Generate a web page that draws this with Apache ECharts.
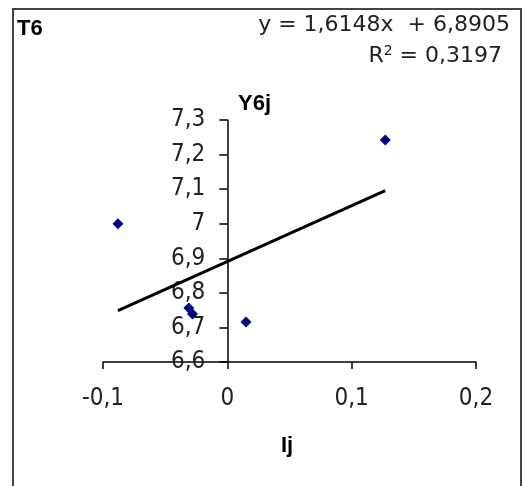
<!DOCTYPE html>
<html>
<head>
<meta charset="utf-8">
<script src="https://cdn.jsdelivr.net/npm/echarts@6/dist/echarts.min.js"></script>
<style>
  html, body { margin: 0; padding: 0; background: #fff; }
  #chart { width: 523px; height: 486px; }
</style>
</head>
<body>
<div id="chart"></div>
<script>
// Ij values (x) and Y6j values (y)
const ijValues = [-0.088, -0.031, -0.028, 0.015, 0.127];
const y6jValues = [7.0, 6.756, 6.739, 6.716, 7.242];

// linear trend shown in the chart
const trendSlope = 1.6148;
const trendIntercept = 6.8905;
const rSquared = 0.3197;

const xTicks = [-0.1, 0, 0.1, 0.2];
const yTicks = [6.6, 6.7, 6.8, 6.9, 7.0, 7.1, 7.2, 7.3];

const comma = (v) => String(parseFloat(v.toFixed(4))).replace('.', ',');

const points = ijValues.map((x, i) => [x, y6jValues[i]]);
const xMin = Math.min(...ijValues);
const xMax = Math.max(...ijValues);
const trend = [xMin, xMax].map((x) => [x, trendIntercept + trendSlope * x]);

// grid box; the value axis crosses at x = 0
const gridLeft = 103;
const gridRight = 47;
const gridWidth = 523 - gridLeft - gridRight;
const axisMin = xTicks[0];
const axisMax = xTicks[xTicks.length - 1];
const yAxisOffset = -((0 - axisMin) / (axisMax - axisMin)) * gridWidth;

const tickFont = "'DejaVu Sans Condensed', 'Liberation Sans', sans-serif";
const chart = echarts.init(document.getElementById('chart'));

chart.setOption({
  animation: false,
  backgroundColor: '#fff',
  grid: { left: gridLeft, right: gridRight, top: 120, bottom: 124 },
  xAxis: {
    type: 'value',
    min: axisMin,
    max: axisMax,
    interval: 0.1,
    splitLine: { show: false },
    axisLine: { lineStyle: { color: '#000', width: 1.5 } },
    axisTick: { length: 7, lineStyle: { color: '#000', width: 1.5 } },
    axisLabel: {
      margin: 25,
      color: '#222',
      fontFamily: tickFont,
      fontSize: 24,
      formatter: comma,
    },
  },
  yAxis: {
    type: 'value',
    min: yTicks[0],
    max: yTicks[yTicks.length - 1],
    interval: 0.1,
    offset: yAxisOffset,
    splitLine: { show: false },
    axisLine: { onZero: false, lineStyle: { color: '#000', width: 1.5 } },
    axisTick: { length: 8, lineStyle: { color: '#000', width: 1.5 } },
    axisLabel: {
      margin: 22,
      color: '#222',
      fontFamily: tickFont,
      fontSize: 24,
      formatter: comma,
    },
  },
  series: [
    {
      type: 'line',
      data: trend,
      symbol: 'none',
      lineStyle: { color: '#000', width: 3 },
      z: 2,
    },
    {
      type: 'scatter',
      data: points,
      symbol: 'diamond',
      symbolSize: 11,
      itemStyle: { color: '#000080', opacity: 1 },
      z: 3,
    },
  ],
  graphic: [
    {
      type: 'rect',
      shape: { x: 13, y: 9, width: 508, height: 490 },
      style: { fill: 'none', stroke: '#444', lineWidth: 2 },
      silent: true,
    },
    {
      type: 'text',
      left: 17,
      top: 18,
      style: { text: 'T6', font: "bold 22px 'Liberation Sans', Arial", fill: '#000' },
    },
    {
      type: 'text',
      right: 13,
      top: 14,
      style: {
        text: 'y = ' + comma(trendSlope) + 'x  + ' + comma(trendIntercept),
        font: "22px 'DejaVu Sans'",
        fill: '#222',
      },
    },
    {
      type: 'text',
      right: 21,
      top: 44,
      style: {
        text: 'R{sup|2} = ' + comma(rSquared),
        font: "22px 'DejaVu Sans'",
        fill: '#222',
        rich: {
          sup: { fontSize: 14, verticalAlign: 'top', padding: [0, 0, 10, 0], fontFamily: 'DejaVu Sans' },
        },
      },
    },
    {
      type: 'text',
      left: 238,
      top: 93,
      style: { text: 'Y6j', font: "bold 22px 'Liberation Sans', Arial", fill: '#000' },
    },
    {
      type: 'text',
      left: 281,
      top: 435,
      style: { text: 'Ij', font: "bold 22px 'Liberation Sans', Arial", fill: '#000' },
    },
  ],
});
</script>
</body>
</html>
